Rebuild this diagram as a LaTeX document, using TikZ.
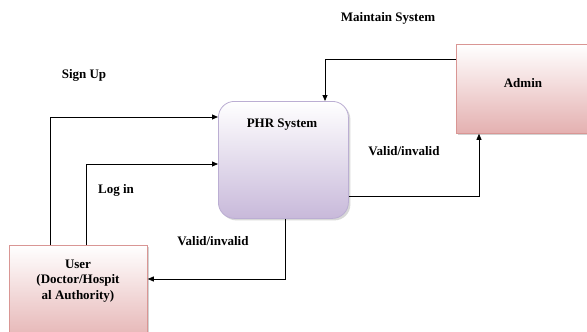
\documentclass[tikz,border=0pt]{standalone}
\usepackage{fontspec}
\setmainfont{Liberation Serif}
\usetikzlibrary{arrows.meta,shadows}
\definecolor{pinkb}{HTML}{D99694}
\definecolor{pinkbot}{HTML}{E4B0B0}
\definecolor{purpb}{HTML}{BBAED3}
\definecolor{purpbot}{HTML}{C8B9DA}
\tikzset{
  pinkbox/.style={draw=pinkb, line width=0.8pt, top color=white, bottom color=pinkbot, drop shadow={shadow xshift=2pt, shadow yshift=-2pt, fill=gray!70}},
  phrbox/.style={draw=purpb, line width=0.8pt, rounded corners=16pt, top color=white, bottom color=purpbot, drop shadow={shadow xshift=2pt, shadow yshift=-2pt, fill=gray!60}},
  lbl/.style={font=\fontsize{13}{15.5}\selectfont\bfseries, align=center, inner sep=0pt},
  arr/.style={line width=0.8pt, -{Triangle[length=6pt,width=5pt]}},
}
\begin{document}
\begin{tikzpicture}[x=1pt,y=-1pt]
\useasboundingbox (0,0) rectangle (587,332);
\clip (0,0) rectangle (587,332);
\fill[white] (0,0) rectangle (587,332);
% boxes
\node[pinkbox, minimum width=138pt, minimum height=100pt, anchor=north west, inner sep=0pt] (user) at (9,245) {};
\node[pinkbox, minimum width=140pt, minimum height=89pt, anchor=north west, inner sep=0pt] (admin) at (456,44) {};
\node[phrbox, minimum width=130pt, minimum height=117pt, anchor=north west, inner sep=0pt] (phr) at (218,101) {};
% box texts
\node[lbl] (usertxt) at (78,281) {User\\(Doctor/Hospit\\al Authority)};
\node[lbl] (admintxt) at (523,83) {Admin};
\node[lbl] (phrtxt) at (282,125) {PHR System};
% coordinates
\coordinate (su) at (50,117);
\coordinate (li) at (86,164);
\coordinate (ms) at (325,59);
\coordinate (vr) at (479,196);
\coordinate (vb) at (285,279);
% connectors
\draw[arr] (user.north -| su) |- (phr.west |- su);
\draw[arr] (user.north -| li) |- (phr.west |- li);
\draw[arr] (admin.west |- ms) -| (phr.north -| ms);
\draw[arr] (phr.east |- vr) -| (admin.south -| vr);
\draw[arr] (phr.south -| vb) |- (user.east |- vb);
% labels
\node[lbl] (t1) at (388,18) {Maintain System};
\node[lbl] (t2) at (84,75) {Sign Up};
\node[lbl] (t3) at (116,190) {Log in};
\node[lbl] (t4) at (404,151) {Valid/invalid};
\node[lbl] (t5) at (213,241) {Valid/invalid};
\end{tikzpicture}
\end{document}
